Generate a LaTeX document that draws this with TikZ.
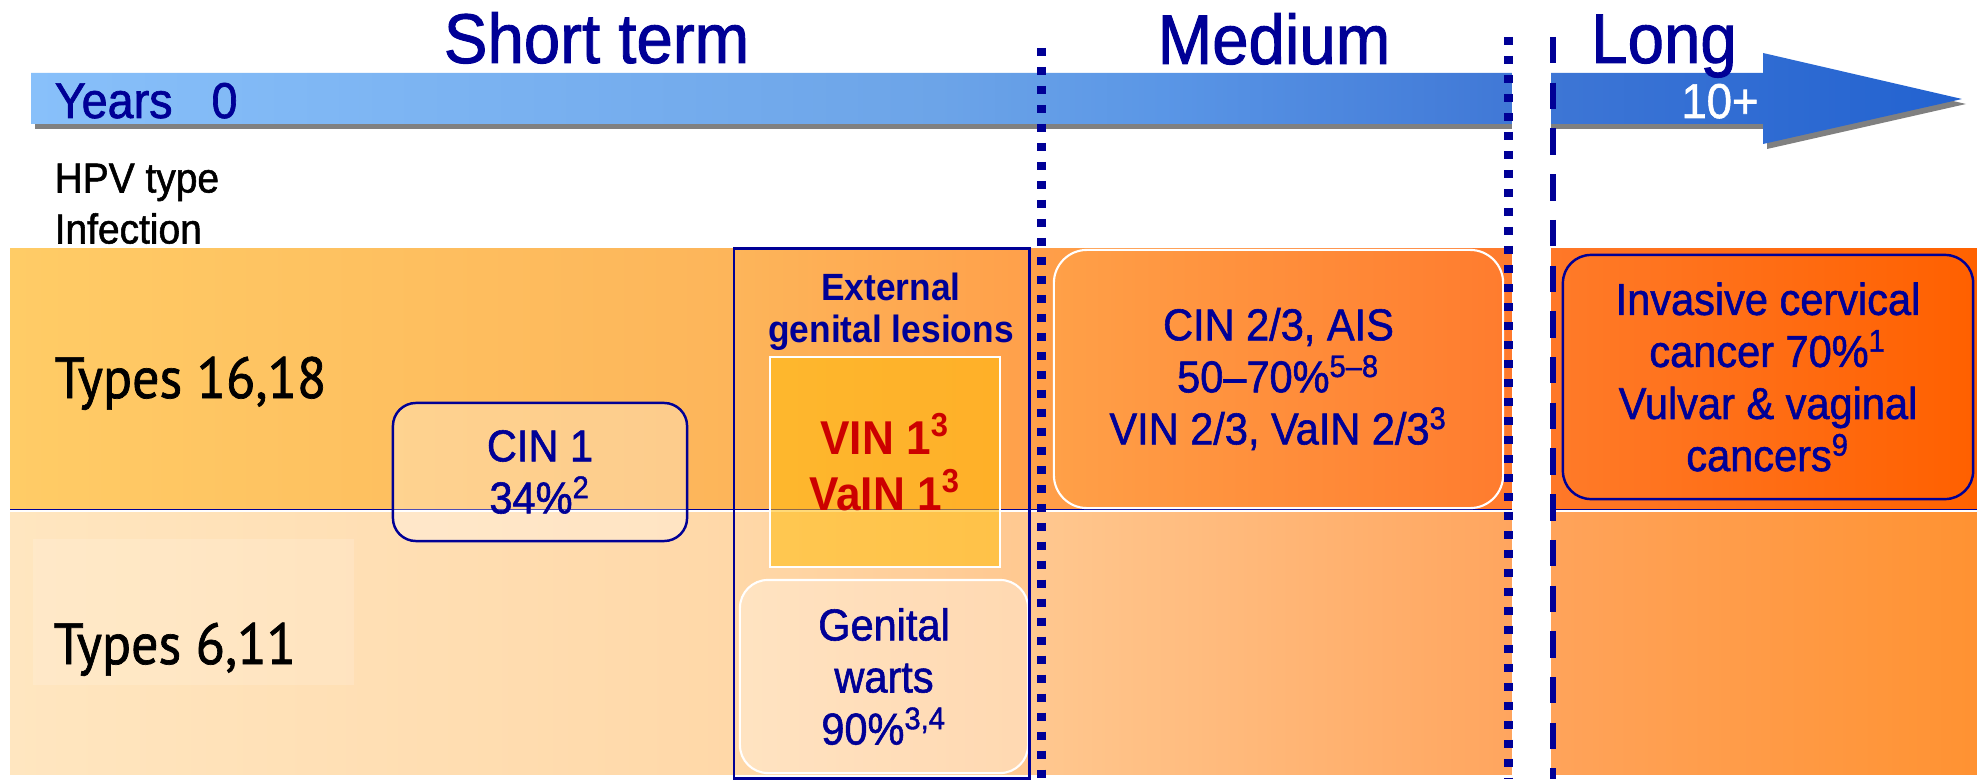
\documentclass[tikz,border=0pt]{standalone}
\usepackage{fontspec}
\setmainfont{Liberation Sans}[FakeStretch=0.93, UprightFeatures={FakeBold=1.3}]
\newfontfamily\typesfont{PT Sans}[FakeStretch=0.93, UprightFeatures={FakeBold=1.2}]

\definecolor{hpvnavy}{RGB}{0,0,150}
\definecolor{vinred}{RGB}{204,0,0}
\definecolor{vingold}{RGB}{255,188,12}
\definecolor{tbA}{HTML}{FFCC66}\definecolor{tbB}{HTML}{FDB55A}\definecolor{tbC}{HTML}{FFA04A}
\definecolor{tbD}{HTML}{FF7A2C}\definecolor{tbE}{HTML}{FF6200}
\definecolor{bbA}{HTML}{FFE6C0}\definecolor{bbB}{HTML}{FFD8A8}\definecolor{bbC}{HTML}{FFC890}
\definecolor{bbD}{HTML}{FFA55E}\definecolor{bbE}{HTML}{FF9232}
\definecolor{arA}{HTML}{88C0FA}\definecolor{arB}{HTML}{6CA4E8}\definecolor{arC}{HTML}{5A96E6}
\definecolor{arD}{HTML}{4078D6}\definecolor{arE}{HTML}{2262D0}
\definecolor{midL}{HTML}{FFA048}\definecolor{midR}{HTML}{FF7C2E}
\definecolor{longL}{HTML}{FF7A28}\definecolor{longR}{HTML}{FF6000}

\pgfdeclarehorizontalshading{topband}{100bp}{color(0bp)=(tbA); color(25bp)=(tbA);
  color(43.4bp)=(tbB); color(50.9bp)=(tbC); color(63.2bp)=(tbD); color(75bp)=(tbE); color(100bp)=(tbE)}
\pgfdeclarehorizontalshading{botband}{100bp}{color(0bp)=(bbA); color(25bp)=(bbA);
  color(43.4bp)=(bbB); color(50.9bp)=(bbC); color(63.2bp)=(bbD); color(75bp)=(bbE); color(100bp)=(bbE)}
\pgfdeclarehorizontalshading{timebar}{100bp}{color(0bp)=(arA); color(25bp)=(arA);
  color(48.5bp)=(arB); color(54.3bp)=(arC); color(63.3bp)=(arD); color(75bp)=(arE); color(100bp)=(arE)}

\tikzset{
  dotline/.style={hpvnavy, line width=2.4pt, dash pattern=on 2.3pt off 3.1pt},
  dashline/.style={hpvnavy, line width=1.8pt, dash pattern=on 7.5pt off 5.5pt},
  navybox/.style={draw=hpvnavy, line width=0.7pt},
  whitebox/.style={draw=white, line width=0.6pt},
  glassbox/.style={fill=white, fill opacity=0.3, text opacity=1},
  boxtext/.style={inner sep=0pt, align=center, text=hpvnavy, font=\fontsize{12.7}{14.8}\selectfont},
  phase/.style={anchor=base, inner sep=0pt, text=hpvnavy, font=\fontsize{20}{24}\selectfont},
  rowlabel/.style={anchor=base west, inner sep=0pt, font=\typesfont\fontsize{16.5}{20}\selectfont}
}

\begin{document}
\begin{tikzpicture}[x=0.01cm, y=-0.01cm]
  \useasboundingbox (0,0) rectangle (1977,779);
  \fill[white] (0,0) rectangle (1977,779);

  % rows
  \shade[shading=topband] (10,248) rectangle (1977,509);
  \shade[shading=botband] (10,512) rectangle (1977,774);
  \draw[hpvnavy, line width=0.4pt] (10,509.5) -- (1977,509.5);
  \fill[white, opacity=0.15] (33,539) rectangle (354,685);

  % time arrow
  \fill[black!50, shift={(4,5)}] (31,73) -- (1763,73) -- (1763,53) -- (1962,99)
    -- (1763,144) -- (1763,124) -- (31,124) -- cycle;
  \shade[shading=timebar] (31,73) -- (1763,73) -- (1763,53) -- (1962,99)
    -- (1763,144) -- (1763,124) -- (31,124) -- cycle;
  \fill[white] (1512,60) rectangle (1551,779);

  \node[navybox, glassbox, rounded corners=0.23cm, minimum width=2.94cm, minimum height=1.38cm, boxtext]
    (cin1) at (540,472) {CIN 1\\34\%\textsuperscript{2}};
  \node[whitebox, fill=vingold, fill opacity=0.55, text opacity=1, minimum width=2.3cm, minimum height=2.1cm,
    inner sep=0pt, align=center, text=vinred, font=\bfseries\fontsize{13.5}{15.9}\selectfont]
    (vin) at (885,462) {VIN 1\textsuperscript{3}\\VaIN 1\textsuperscript{3}};
  \node[whitebox, glassbox, rounded corners=0.28cm, minimum width=2.88cm, minimum height=1.93cm, boxtext]
    (warts) at (884,676.5) {Genital\\warts\\90\%\textsuperscript{3,4}};
  \node[draw=hpvnavy, line width=0.8pt, minimum width=2.95cm, minimum height=5.29cm, inner sep=0pt]
    (egl) at (881.5,513.5) {};
  \node[anchor=north, inner sep=0pt, align=center, text=hpvnavy, font=\bfseries\fontsize{10.8}{12}\selectfont]
    (egllabel) at (891,272) {External\\genital lesions};
  \node[whitebox, rounded corners=0.33cm, left color=midL, right color=midR, minimum width=4.49cm,
    minimum height=2.58cm, boxtext]
    (cin23) at (1278.5,379) {CIN 2/3, AIS\\50--70\%\textsuperscript{5--8}\\VIN 2/3, VaIN 2/3\textsuperscript{3}};
  \node[navybox, rounded corners=0.28cm, left color=longL, right color=longR, minimum width=4.1cm,
    minimum height=2.44cm, boxtext]
    (cancer) at (1768,377) {Invasive cervical\\cancer 70\%\textsuperscript{1}\\Vulvar \& vaginal\\cancers\textsuperscript{9}};

  % phase borders
  \draw[dotline] (1041.5,48) -- (1041.5,779);
  \draw[dotline] (1508.5,37) -- (1508.5,779);
  \draw[dashline] (1553,37) -- (1553,779);

  \node[phase] (short) at (596.5,63) {Short term};
  \node[phase] (medium) at (1274,64) {Medium};
  \node[phase] (long) at (1664,63) {Long};
  \node[anchor=base west, inner sep=0pt, text=hpvnavy, font=\fontsize{14.3}{17}\selectfont]
    (years) at (54,118) {Years\ \ \ 0};
  \node[anchor=base, inner sep=0pt, text=white, font=\fontsize{13.9}{17}\selectfont]
    (tenplus) at (1720,118) {10+};
  \node[anchor=north west, inner sep=0pt, align=left, font=\fontsize{11.9}{14.5}\selectfont]
    (hpv) at (54,163) {HPV type\\Infection};
  \node[rowlabel] (high) at (54,398) {Types 16,18};
  \node[rowlabel] (low) at (53,664) {Types 6,11};
\end{tikzpicture}
\end{document}
